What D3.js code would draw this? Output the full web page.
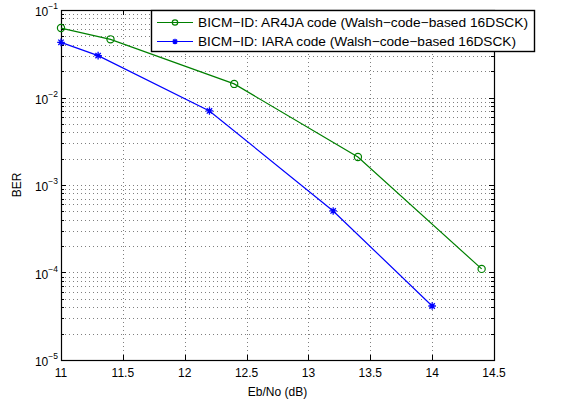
<!DOCTYPE html>
<html>
<head>
<meta charset="utf-8">
<script src="https://cdn.jsdelivr.net/npm/d3@7"></script>
<style>
body { margin: 0; background: #fff; }
svg { font-family: "Liberation Sans", Arial, sans-serif; }
</style>
</head>
<body>
<div id="chart"></div>
<script>
var width = 564,
  height = 405;

var margin = { top: 10, right: 70, bottom: 45, left: 61 };
var innerW = width - margin.left - margin.right,
  innerH = height - margin.top - margin.bottom;

// data
var ar4jaSnr = [11, 11.4, 12.4, 13.4, 14.4];
var ar4jaBer = [0.0622, 0.0462, 0.0143, 0.00209, 1.1e-4];
var iaraSnr = [11, 11.3, 12.2, 13.2, 14];
var iaraBer = [0.0427, 0.0301, 0.00702, 5.05e-4, 4.14e-5];

var xTicks = [11, 11.5, 12, 12.5, 13, 13.5, 14, 14.5];
var yDecades = [-5, -4, -3, -2, -1];
var seriesNames = ["BICM\u2212ID: AR4JA code (Walsh\u2212code\u2212based 16DSCK)",
  "BICM\u2212ID: IARA code (Walsh\u2212code\u2212based 16DSCK)"];

var svg = d3.select("#chart").append("svg")
  .attr("width", width)
  .attr("height", height);

var g = svg.append("g")
  .attr("transform", "translate(" + margin.left + "," + margin.top + ")");

var x = d3.scaleLinear().domain([11, 14.5]).range([0, innerW]);
var y = d3.scaleLog().domain([1e-5, 1e-1]).range([innerH, 0]);

// minor log positions
var minorY = [];
yDecades.slice(0, -1).forEach(function(e) {
  for (var m = 2; m <= 9; m++) minorY.push(m * Math.pow(10, e));
});
var majorY = yDecades.map(function(e) { return Math.pow(10, e); });

// grid
var grid = g.append("g")
  .attr("stroke", "#000")
  .attr("stroke-opacity", 0.5)
  .attr("stroke-width", 1)
  .attr("stroke-dasharray", "1,3");

grid.selectAll(".gy")
  .data(majorY.slice(1, -1).concat(minorY))
  .enter().append("line")
    .attr("x1", 0).attr("x2", innerW)
    .attr("y1", function(d) { return Math.round(y(d)) + 0.5; })
    .attr("y2", function(d) { return Math.round(y(d)) + 0.5; });

grid.selectAll(".gx")
  .data(xTicks.slice(1, -1))
  .enter().append("line")
    .attr("y1", 0).attr("y2", innerH)
    .attr("x1", function(d) { return Math.round(x(d)) + 0.5; })
    .attr("x2", function(d) { return Math.round(x(d)) + 0.5; });

// ticks (inward, both sides)
var ticks = g.append("g").attr("stroke", "#000").attr("stroke-width", 1);
xTicks.forEach(function(t) {
  var px = Math.round(x(t)) + 0.5;
  ticks.append("line").attr("x1", px).attr("x2", px).attr("y1", innerH).attr("y2", innerH - 5);
  ticks.append("line").attr("x1", px).attr("x2", px).attr("y1", 0).attr("y2", 5);
});
majorY.forEach(function(t) {
  var py = Math.round(y(t)) + 0.5;
  ticks.append("line").attr("x1", 0).attr("x2", 5).attr("y1", py).attr("y2", py);
  ticks.append("line").attr("x1", innerW).attr("x2", innerW - 5).attr("y1", py).attr("y2", py);
});
minorY.forEach(function(t) {
  var py = Math.round(y(t)) + 0.5;
  ticks.append("line").attr("x1", 0).attr("x2", 3).attr("y1", py).attr("y2", py);
  ticks.append("line").attr("x1", innerW).attr("x2", innerW - 3).attr("y1", py).attr("y2", py);
});

// box
g.append("rect")
  .attr("x", 0.5).attr("y", 0.5)
  .attr("width", innerW).attr("height", innerH)
  .attr("fill", "none")
  .attr("stroke", "#000")
  .attr("stroke-width", 1.2);

// tick labels
g.selectAll(".xl")
  .data(xTicks)
  .enter().append("text")
    .attr("x", function(d) { return x(d); })
    .attr("y", innerH + 17)
    .attr("text-anchor", "middle")
    .attr("font-size", 12)
    .text(function(d) { return d; });

var yl = g.selectAll(".yl")
  .data(yDecades)
  .enter().append("text")
    .attr("x", -3)
    .attr("y", function(d) { return y(Math.pow(10, d)) + 6; })
    .attr("text-anchor", "end")
    .attr("font-size", 12);
yl.append("tspan").text("10");
yl.append("tspan")
  .attr("dy", -7)
  .attr("font-size", 8.5)
  .text(function(d) { return "\u2212" + (-d); });

// axis titles
svg.append("text")
  .attr("x", margin.left + innerW / 2)
  .attr("y", 396)
  .attr("text-anchor", "middle")
  .attr("font-size", 12)
  .text("Eb/No (dB)");

svg.append("text")
  .attr("transform", "translate(21," + (margin.top + innerH / 2) + ") rotate(-90)")
  .attr("text-anchor", "middle")
  .attr("font-size", 12)
  .text("BER");

// series
var line = d3.line()
  .x(function(d) { return x(d[0]); })
  .y(function(d) { return y(d[1]); });

var green = "#008000", blue = "#0000ff";
var ar4ja = d3.zip(ar4jaSnr, ar4jaBer);
var iara = d3.zip(iaraSnr, iaraBer);

g.append("path").datum(ar4ja)
  .attr("fill", "none").attr("stroke", green).attr("stroke-width", 1.2)
  .attr("d", line);
g.append("path").datum(iara)
  .attr("fill", "none").attr("stroke", blue).attr("stroke-width", 1.2)
  .attr("d", line);

function circleMarker(sel, cx, cy, r) {
  sel.append("circle")
    .attr("cx", cx).attr("cy", cy).attr("r", r)
    .attr("fill", "none").attr("stroke", green).attr("stroke-width", 1.2);
}
function starMarker(sel, cx, cy, r) {
  var p = "";
  [0, 45, 90, 135].forEach(function(a) {
    var rad = a * Math.PI / 180;
    p += "M" + (cx - r * Math.cos(rad)) + "," + (cy - r * Math.sin(rad)) +
      "L" + (cx + r * Math.cos(rad)) + "," + (cy + r * Math.sin(rad));
  });
  sel.append("path").attr("d", p).attr("stroke", blue).attr("stroke-width", 1.3);
}

ar4ja.forEach(function(d) { circleMarker(g, x(d[0]), y(d[1]), 3.6); });
iara.forEach(function(d) { starMarker(g, x(d[0]), y(d[1]), 3.8); });

// legend
var lg = svg.append("g").attr("transform", "translate(151,10)");
lg.append("rect")
  .attr("x", 0.5).attr("y", 0.5)
  .attr("width", 383).attr("height", 41)
  .attr("fill", "#fff")
  .attr("stroke", "#000")
  .attr("stroke-width", 1.4);

[green, blue].forEach(function(c, i) {
  var ly = 12.5 + i * 19;
  lg.append("line")
    .attr("x1", 6).attr("x2", 42).attr("y1", ly).attr("y2", ly)
    .attr("stroke", c).attr("stroke-width", 1.2);
  if (i === 0) circleMarker(lg, 24, ly, 2.7); else starMarker(lg, 24, ly, 2.8);
  lg.append("text")
    .attr("x", 47).attr("y", ly + 4.5)
    .attr("font-size", 12.5)
    .attr("textLength", i === 0 ? 330 : 318)
    .attr("lengthAdjust", "spacingAndGlyphs")
    .text(seriesNames[i]);
});
</script>
</body>
</html>
